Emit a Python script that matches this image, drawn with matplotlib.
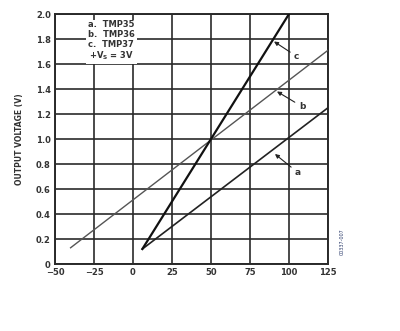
import matplotlib.pyplot as plt

# temperature (C) and output voltage (V) end points
temp_a = [6, 125]
volt_a = [0.12, 1.25]
temp_b = [-40, 125]
volt_b = [0.13, 1.71]
temp_c = [6, 100]
volt_c = [0.12, 2.0]

x_ticks = [-50, -25, 0, 25, 50, 75, 100, 125]
x_labels = ['\u221250', '\u221225', '0', '25', '50', '75', '100', '125']
y_ticks = [0, 0.2, 0.4, 0.6, 0.8, 1.0, 1.2, 1.4, 1.6, 1.8, 2.0]
y_labels = ['0', '0.2', '0.4', '0.6', '0.8', '1.0', '1.2', '1.4', '1.6', '1.8', '2.0']

fig = plt.figure(figsize=(4.0, 3.31), dpi=100)
ax = fig.add_axes([0.1375, 0.2024, 0.6825, 0.7553])

ax.set_xlim(-50, 125)
ax.set_ylim(0, 2.0)
ax.set_xticks(x_ticks)
ax.set_xticklabels(x_labels, fontsize=6, fontweight='bold', color='#333333')
ax.set_yticks(y_ticks)
ax.set_yticklabels(y_labels, fontsize=6, fontweight='bold', color='#333333')
ax.tick_params(length=0, pad=3)
ax.grid(True, color='#2a2a2a', lw=1.2)
for s in ax.spines.values():
    s.set_color('#2a2a2a')
    s.set_linewidth(1.4)

ax.plot(temp_a, volt_a, color='#222222', lw=1.2, zorder=3)
ax.plot(temp_b, volt_b, color='#555555', lw=1.0, zorder=3)
ax.plot(temp_c, volt_c, color='#111111', lw=1.6, zorder=3)

# callouts
arrow = dict(arrowstyle='-|>', color='#222222', lw=0.8, mutation_scale=6,
             shrinkA=1, shrinkB=0)
for lbl, head, txt in [('c', (90.4, 1.78), (105, 1.66)),
                       ('b', (92.3, 1.38), (108.3, 1.26)),
                       ('a', (91, 0.88), (105.8, 0.73))]:
    ax.annotate(lbl, xy=head, xytext=txt, fontsize=6.5, fontweight='bold',
                color='#333333', ha='center', va='center', arrowprops=arrow)

ax.text(-14, 1.95, 'a.  TMP35\nb.  TMP36\nc.  TMP37\n+V$_\\mathbf{S}$ = 3V',
        fontsize=6, fontweight='bold', color='#333333', ha='center', va='top',
        linespacing=1.1, zorder=4,
        bbox=dict(facecolor='white', edgecolor='none', pad=1.5))

fig.text(0.05, 0.58, 'OUTPUT VOLTAGE (V)', rotation=90, fontsize=5.5,
         fontweight='bold', color='#333333', ha='center', va='center')
fig.text(0.855, 0.27, '00337-007', rotation=90, fontsize=3.5,
         color='#2a3a6a', ha='center', va='center')

fig.savefig('out.png', dpi=100)
